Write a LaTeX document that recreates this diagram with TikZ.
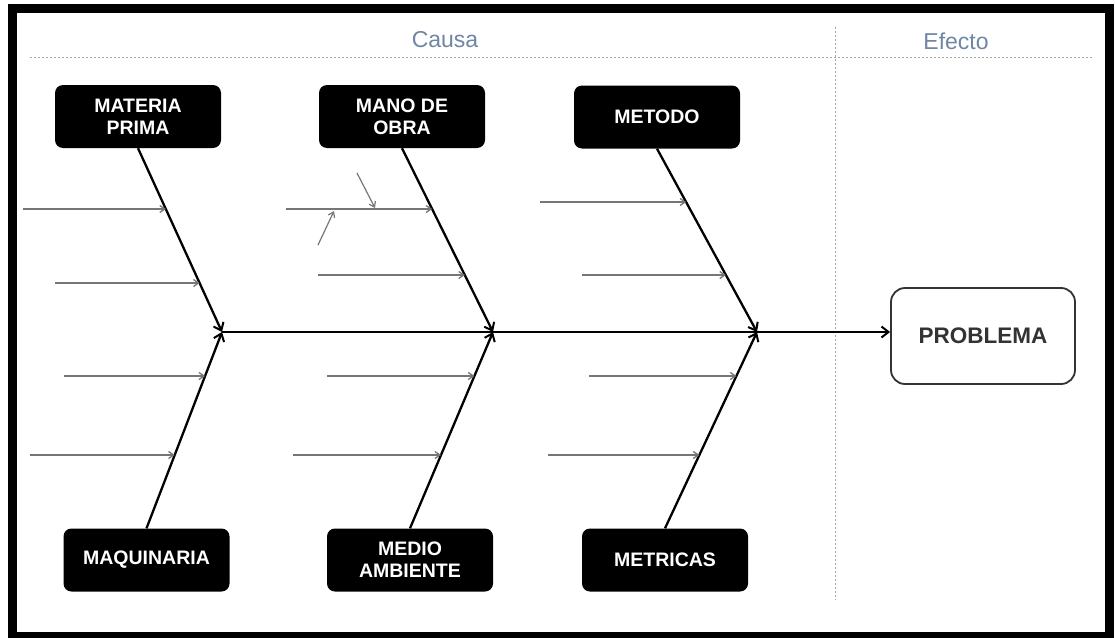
\documentclass[tikz,border=0pt]{standalone}
\usepackage{fontspec}
\setmainfont{Liberation Sans}
\usetikzlibrary{arrows.meta,calc}
\definecolor{headblue}{HTML}{6F86A4}
\definecolor{subgray}{HTML}{767676}
\definecolor{probgray}{HTML}{333333}
\begin{document}
\begin{tikzpicture}[x=1pt,y=-1pt,
  cat/.style={fill=black, rounded corners=8pt, minimum width=166pt, minimum height=63pt,
    text=white, font=\fontsize{19.5}{22}\selectfont\bfseries, align=center, inner sep=0pt},
  bone/.style={line width=2.3pt, black, -{Straight Barb[length=7pt,width=11pt,line width=2pt]}},
  sub/.style={line width=1.6pt, subgray, -{Straight Barb[length=5pt,width=7pt,line width=1.3pt]}},
  tiny/.style={line width=1.2pt, subgray, -{Straight Barb[length=5pt,width=7pt,line width=1.2pt]}},
  sep/.style={gray!70, line width=1pt, dash pattern=on 2pt off 2pt},
  head/.style={text=headblue, font=\fontsize{23}{26}\selectfont, inner sep=0pt},
]
\useasboundingbox (0,0) rectangle (1115,637);
\fill[white] (0,0) rectangle (1115,637);
% frame
\draw[line width=9pt] (12,8.5) rectangle (1109.5,636);
% headers and separators
\draw[sep] (30,57) -- (1094,57);
\draw[sep] (835,27) -- (835,600);
\node[head] (causa) at (445,40) {Causa};
\node[head] (efecto) at (956,41) {Efecto};
% category boxes
\node[cat] (mp) at (138,116.5) {MATERIA\\PRIMA};
\node[cat] (mo) at (402,116.5) {MANO DE\\OBRA};
\node[cat] (me) at (657,117) {METODO};
\node[cat] (maq) at (146.5,560) {MAQUINARIA};
\node[cat] (ma) at (410,560) {MEDIO\\AMBIENTE};
\node[cat] (mt) at (665,560) {METRICAS};
% effect
\node[draw=probgray, line width=1.8pt, rounded corners=14pt, minimum width=184pt,
  minimum height=96pt, font=\fontsize{22.5}{26}\selectfont\bfseries, text=probgray]
  (prob) at (983,336) {PROBLEMA};
% junctions on spine
\coordinate (j1) at (222,332);
\coordinate (j2) at (493,332);
\coordinate (j3) at (757,332);
% spine
\draw[bone] (j1) -- (j1 -| prob.west);
% bones
\draw[bone] (mp.south) -- (j1);
\draw[bone] (mo.south) -- (j2);
\draw[bone] (me.south) -- (j3);
\draw[bone] (maq.north) -- (j1);
\draw[bone] (ma.north) -- (j2);
\draw[bone] (mt.north) -- (j3);
% sub causes: start / end on bone
\foreach \s/\sx/\ex/\yy in {a1/23/165.9/209, a2/55/199.6/283,
  b1/286/432.2/209, b2/318/464.8/275,
  c1/540/686.2/202, c2/582/725.9/275,
  d1/64/205.1/376, d2/30/174.7/455,
  e1/327/474.4/376, e2/293/441.0/455,
  f1/589/736.4/376, f2/548/699.4/455}
{
  \coordinate (s\s) at (\sx,\yy);
  \coordinate (t\s) at (\ex,\yy);
  \draw[sub] (s\s) -- (t\s);
}
% secondary small causes
\coordinate (x1s) at (357,173);
\coordinate (x1e) at (375,208);
\coordinate (x2s) at (318,245);
\coordinate (x2e) at (334,211);
\draw[tiny] (x1s) -- (x1e);
\draw[tiny] (x2s) -- (x2e);
\end{tikzpicture}
\end{document}
